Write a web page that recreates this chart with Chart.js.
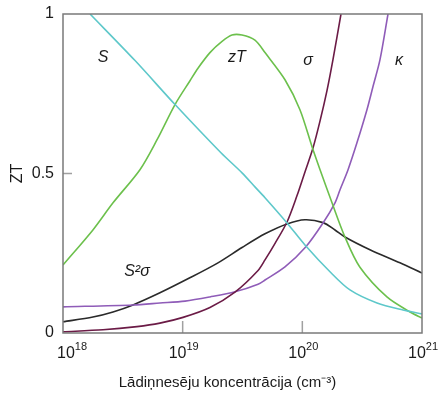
<!DOCTYPE html>
<html>
<head>
<meta charset="utf-8">
<script src="https://cdn.jsdelivr.net/npm/chart.js@4/dist/chart.umd.min.js"></script>
<style>
html,body{margin:0;padding:0;background:#fff;}
#wrap{width:441px;height:397px;position:relative;}
</style>
</head>
<body>
<div id="wrap"><canvas id="c" width="441" height="397"></canvas></div>
<script>
// ---- data (x given as log10 of carrier concentration, cm^-3) ----
const xDecades = [1e18, 1e19, 1e20, 1e21];
const xTickBase = ['10', '10', '10', '10'];
const xTickExp = ['18', '19', '20', '21'];
const yTicks = [0, 0.5, 1];
const yTickLabels = ['0', '0.5', '1'];
const xTitle = 'Lādiņnesēju koncentrācija (cm⁻³)';
const yTitle = 'ZT';

const sLog  = [18.226, 18.602, 18.944, 19.32, 19.496, 19.604, 19.688, 19.872, 20.022, 20.231, 20.398, 20.624, 20.841, 21.0];
const sVal  = [1.0, 0.854, 0.713, 0.565, 0.502, 0.458, 0.424, 0.345, 0.276, 0.192, 0.135, 0.094, 0.072, 0.060];

const ztLog = [18.0, 18.25, 18.418, 18.643, 18.786, 18.936, 19.06, 19.128, 19.228, 19.329, 19.412, 19.496, 19.604, 19.688, 19.855, 19.98, 20.081, 20.148, 20.248, 20.356, 20.48, 20.707, 20.9, 21.0];
const ztVal = [0.213, 0.323, 0.408, 0.512, 0.606, 0.716, 0.790, 0.830, 0.879, 0.914, 0.934, 0.934, 0.918, 0.879, 0.794, 0.700, 0.584, 0.512, 0.408, 0.301, 0.207, 0.113, 0.066, 0.047];

const sigLog = [18.0, 18.334, 18.618, 18.81, 19.003, 19.228, 19.437, 19.63, 19.688, 19.772, 19.872, 19.955, 20.022, 20.089, 20.148, 20.206, 20.256, 20.323];
const sigVal = [0.004, 0.010, 0.020, 0.031, 0.049, 0.080, 0.128, 0.196, 0.229, 0.281, 0.348, 0.430, 0.505, 0.580, 0.665, 0.760, 0.857, 1.0];

const kapLog = [18.0, 18.585, 18.81, 19.02, 19.228, 19.437, 19.63, 19.688, 19.855, 20.022, 20.173, 20.273, 20.315, 20.382, 20.457, 20.54, 20.59, 20.649, 20.716];
const kapVal = [0.082, 0.088, 0.094, 0.100, 0.113, 0.129, 0.153, 0.166, 0.207, 0.267, 0.345, 0.408, 0.449, 0.512, 0.597, 0.700, 0.772, 0.857, 1.0];

const pfLog = [18.0, 18.25, 18.418, 18.585, 18.81, 19.06, 19.295, 19.496, 19.688, 19.872, 20.022, 20.173, 20.273, 20.356, 20.565, 20.816, 21.0];
const pfVal = [0.035, 0.050, 0.066, 0.088, 0.126, 0.173, 0.220, 0.268, 0.311, 0.342, 0.355, 0.346, 0.323, 0.301, 0.261, 0.220, 0.188];

// curve labels: [text, log10 x, y]
const curveLabels = [
  ['S', 18.334, 0.862],
  ['zT', 19.454, 0.862],
  ['σ', 20.047, 0.855],
  ['κ', 20.808, 0.855],
  ['S²σ', 18.618, 0.192]
];

const FONT = '"Liberation Sans", Arial, sans-serif';

function pts(lx, ly) { return lx.map((v, i) => ({ x: Math.pow(10, v), y: ly[i] })); }
function ds(lx, ly, color) {
  return { data: pts(lx, ly), borderColor: color, borderWidth: 1.6, pointRadius: 0, fill: false, tension: 0.3 };
}

const framePlugin = {
  id: 'frame',
  afterDatasetsDraw(chart) {
    const { ctx, chartArea: a, scales } = chart;
    ctx.save();
    // inward ticks
    ctx.strokeStyle = '#a0a0a0';
    ctx.lineWidth = 1.5;
    ctx.beginPath();
    [1e19, 1e20].forEach(v => {
      const px = scales.x.getPixelForValue(v);
      ctx.moveTo(px, a.bottom); ctx.lineTo(px, a.bottom - 12);
    });
    const py = scales.y.getPixelForValue(0.5);
    ctx.moveTo(a.left, py); ctx.lineTo(a.left + 9, py);
    ctx.stroke();
    // frame
    ctx.strokeStyle = '#7a7a7a';
    ctx.lineWidth = 1.5;
    ctx.strokeRect(a.left, a.top, a.right - a.left, a.bottom - a.top);
    // x tick labels with superscript exponent
    ctx.fillStyle = '#1a1a1a';
    ctx.textBaseline = 'alphabetic';
    xDecades.forEach((v, i) => {
      const px = scales.x.getPixelForValue(v);
      ctx.font = '16px ' + FONT;
      const wb = ctx.measureText(xTickBase[i]).width;
      ctx.font = '11px ' + FONT;
      const we = ctx.measureText(xTickExp[i]).width;
      const w = wb + we;
      let x0 = i === 0 ? px - 6 : px - w / 2 + 1;
      ctx.textAlign = 'left';
      ctx.font = '16px ' + FONT;
      ctx.fillText(xTickBase[i], x0, a.bottom + 25);
      ctx.font = '11px ' + FONT;
      ctx.fillText(xTickExp[i], x0 + wb, a.bottom + 17);
    });
    // x title
    ctx.font = '15px ' + FONT;
    ctx.textAlign = 'center';
    ctx.textBaseline = 'middle';
    ctx.fillText(xTitle, chart.width / 2 + 7, a.bottom + 50);
    // curve labels
    ctx.fillStyle = '#1a1a1a';
    ctx.font = 'italic 16px ' + FONT;
    curveLabels.forEach(([t, lx, y]) => {
      ctx.fillText(t, scales.x.getPixelForValue(Math.pow(10, lx)), scales.y.getPixelForValue(y));
    });
    ctx.restore();
  }
};

new Chart(document.getElementById('c'), {
  type: 'line',
  data: {
    datasets: [
      ds(sLog, sVal, '#5ec8ca'),
      ds(ztLog, ztVal, '#6cc04c'),
      ds(sigLog, sigVal, '#6b1b46'),
      ds(kapLog, kapVal, '#8f5cb8'),
      ds(pfLog, pfVal, '#2a2a2a')
    ]
  },
  options: {
    responsive: false,
    animation: false,
    devicePixelRatio: 1,
    layout: { padding: { top: 14, right: 19, left: 0, bottom: 0 } },
    plugins: { legend: { display: false }, tooltip: { enabled: false } },
    scales: {
      x: {
        type: 'logarithmic',
        min: 1e18, max: 1e21,
        afterBuildTicks: s => { s.ticks = xDecades.map(v => ({ value: v })); },
        afterFit: s => { s.height = 64; s.paddingLeft = 0; s.paddingRight = 0; },
        grid: { display: false, drawTicks: false },
        border: { display: false },
        ticks: { display: false },
        title: { display: false }
      },
      y: {
        min: 0, max: 1,
        afterBuildTicks: s => { s.ticks = yTicks.map(v => ({ value: v })); },
        afterFit: s => { s.width = 63; s.paddingTop = 0; s.paddingBottom = 0; },
        grid: { display: false, drawTicks: false },
        border: { display: false },
        ticks: {
          padding: 9, color: '#1a1a1a', font: { family: FONT, size: 16 },
          callback: (v) => { const i = yTicks.indexOf(v); return i >= 0 ? yTickLabels[i] : ''; }
        },
        title: {
          display: true, text: yTitle, color: '#1a1a1a',
          font: { family: FONT, size: 16 }, padding: { top: 8, bottom: 0 }
        }
      }
    }
  },
  plugins: [framePlugin]
});
</script>
</body>
</html>
